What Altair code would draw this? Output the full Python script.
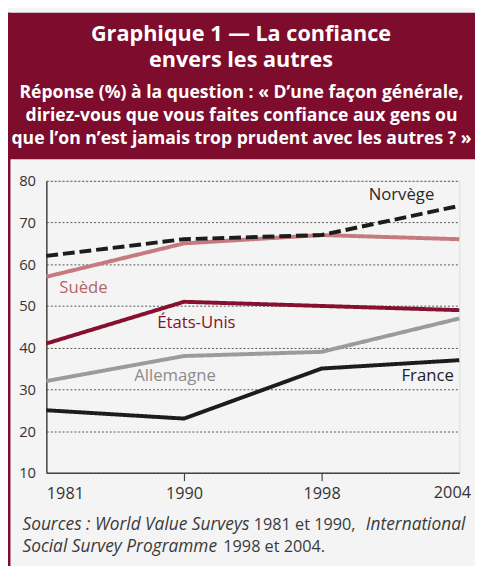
import json
import altair as alt
import pandas as pd

# ---------------- data ----------------
years = ["1981", "1990", "1998", "2004"]
norvege = [62, 66, 67, 74]
suede = [57, 65, 67, 66]
etats_unis = [41, 51, 50, 49]
allemagne = [32, 38, 39, 47]
france = [25, 23, 35, 37]

series_names = ["Suède", "États-Unis", "Allemagne", "France", "Norvège"]
series_values = [suede, etats_unis, allemagne, france, norvege]

# label anchors (in data units: x = year index, y = %)
label_x = [0.27, 1.09, 0.935, 2.77, 2.58]
label_y = [54.4, 46.0, 33.3, 33.2, 76.7]

title_lines = ["Graphique 1 — La confiance", "envers les autres"]
subtitle_lines = [
    "Réponse (%) à la question : « D’une façon générale,",
    "diriez-vous que vous faites confiance aux gens ou",
    "que l’on n’est jamais trop prudent avec les autres ? »",
]

# ---------------- styles ----------------
RED = "#7E0C2C"
BG = "#F4F4F4"
line_colors = {"Suède": "#C47A7E", "États-Unis": "#86102F", "Allemagne": "#9B9B9B",
               "France": "#1C1C1C", "Norvège": "#1C1C1C"}
text_colors = {"Suède": "#B5656A", "États-Unis": "#86102F", "Allemagne": "#8C8C8C",
               "France": "#222222", "Norvège": "#2A2A2A"}
FONT = "Open Sans"
W, H = 420, 297

rows = []
for name, vals in zip(series_names, series_values):
    for i, (yr, v) in enumerate(zip(years, vals)):
        rows.append({"series": name, "idx": i, "year": yr, "value": v})
df = pd.DataFrame(rows)

one = pd.DataFrame({"a": [0]})

xscale = alt.Scale(domain=[0, 3], nice=False, zero=False)
yscale = alt.Scale(domain=[10, 80], nice=False, zero=False)

label_expr = "datum.value == 3 ? '' : " + json.dumps(years) + "[datum.value]"

x_axis = alt.Axis(
    values=[0, 1, 2, 3], labelExpr=label_expr, title=None, grid=False,
    domainColor="#444444", domainWidth=1.5,
    tickColor={"condition": {"test": "datum.value == 0 || datum.value == 3", "value": "transparent"},
               "value": "#444444"},
    tickSize=8, tickWidth=1.2, labelFontSize=16.5, labelColor="#333333",
    labelPadding=5, labelFont=FONT,
)
y_axis = alt.Axis(
    values=[10, 20, 30, 40, 50, 60, 70, 80], title=None, grid=True,
    gridDash=[2, 2], gridColor="#555555", gridWidth=1, ticks=False,
    labelPadding=11, labelFontSize=15, labelColor="#333333", labelFont=FONT,
    domainColor="#444444", domainWidth=1.5,
)

layers = []

# header background and left border
layers.append(alt.Chart(one).mark_rect(color=RED).encode(
    x=alt.value(-39), x2=alt.value(440), y=alt.value(-171), y2=alt.value(-22)))
layers.append(alt.Chart(one).mark_rect(color=RED).encode(
    x=alt.value(-39), x2=alt.value(-36.5), y=alt.value(-171), y2=alt.value(400)))

# title / subtitle
layers.append(alt.Chart(one).mark_text(
    font=FONT, fontSize=22, fontWeight="bold", color="white", align="center",
    baseline="alphabetic", lineHeight=26.6).encode(
    x=alt.value(198), y=alt.value(-142.3), text=alt.value(title_lines)))
layers.append(alt.Chart(one).mark_text(
    font=FONT, fontSize=17.9, fontWeight="bold", color="white", align="center",
    baseline="alphabetic", lineHeight=23.3).encode(
    x=alt.value(198.5), y=alt.value(-84), text=alt.value(subtitle_lines)))

# lines
for name in series_names:
    sub = df[df.series == name]
    dash = [12, 5] if name == "Norvège" else [1, 0]
    layers.append(alt.Chart(sub).mark_line(
        color=line_colors[name], strokeWidth=4, strokeDash=dash, strokeCap="butt").encode(
        x=alt.X("idx:Q", scale=xscale, axis=x_axis),
        y=alt.Y("value:Q", scale=yscale, axis=y_axis),
    ))

# series labels
for name, lx, ly in zip(series_names, label_x, label_y):
    layers.append(alt.Chart(pd.DataFrame({"x": [lx], "y": [ly], "t": [name]})).mark_text(
        font=FONT, fontSize=17, color=text_colors[name], align="center", baseline="middle").encode(
        x=alt.X("x:Q", scale=xscale), y=alt.Y("y:Q", scale=yscale), text="t:N"))

# last x label (shifted inside the frame)
layers.append(alt.Chart(pd.DataFrame({"x": [3], "t": [years[3]]})).mark_text(
    font=FONT, fontSize=16.5, color="#333333", align="center", baseline="top", dx=-7).encode(
    x=alt.X("x:Q", scale=xscale), y=alt.value(H + 13), text="t:N"))

# sources
src_it = dict(font=FONT, fontSize=17.6, fontStyle="italic", color="#3A3A3A",
              align="left", baseline="alphabetic")
src_rg = dict(font=FONT, fontSize=16.5, color="#3A3A3A", align="left", baseline="alphabetic")
L1, L2 = 355, 377.5
layers.append(alt.Chart(one).mark_text(**src_it).encode(
    x=alt.value(-24.3), y=alt.value(L1), text=alt.value("Sources : World Value Surveys")))
layers.append(alt.Chart(one).mark_text(**src_rg).encode(
    x=alt.value(211), y=alt.value(L1), text=alt.value("1981 et 1990,")))
layers.append(alt.Chart(one).mark_text(**src_it).encode(
    x=alt.value(325), y=alt.value(L1), text=alt.value("International")))
layers.append(alt.Chart(one).mark_text(**src_it).encode(
    x=alt.value(-24.3), y=alt.value(L2), text=alt.value("Social Survey Programme")))
layers.append(alt.Chart(one).mark_text(**src_rg).encode(
    x=alt.value(180), y=alt.value(L2), text=alt.value("1998 et 2004.")))

chart = alt.layer(*layers).properties(
    width=W, height=H,
    autosize=alt.AutoSizeParams(type="none"),
    padding={"left": 39, "top": 171, "right": 16, "bottom": 90},
    background=BG,
).configure_view(stroke="#444444", strokeWidth=1.5).configure(font=FONT)

chart.save("out.html", embed_options={"renderer": "svg", "actions": False})
